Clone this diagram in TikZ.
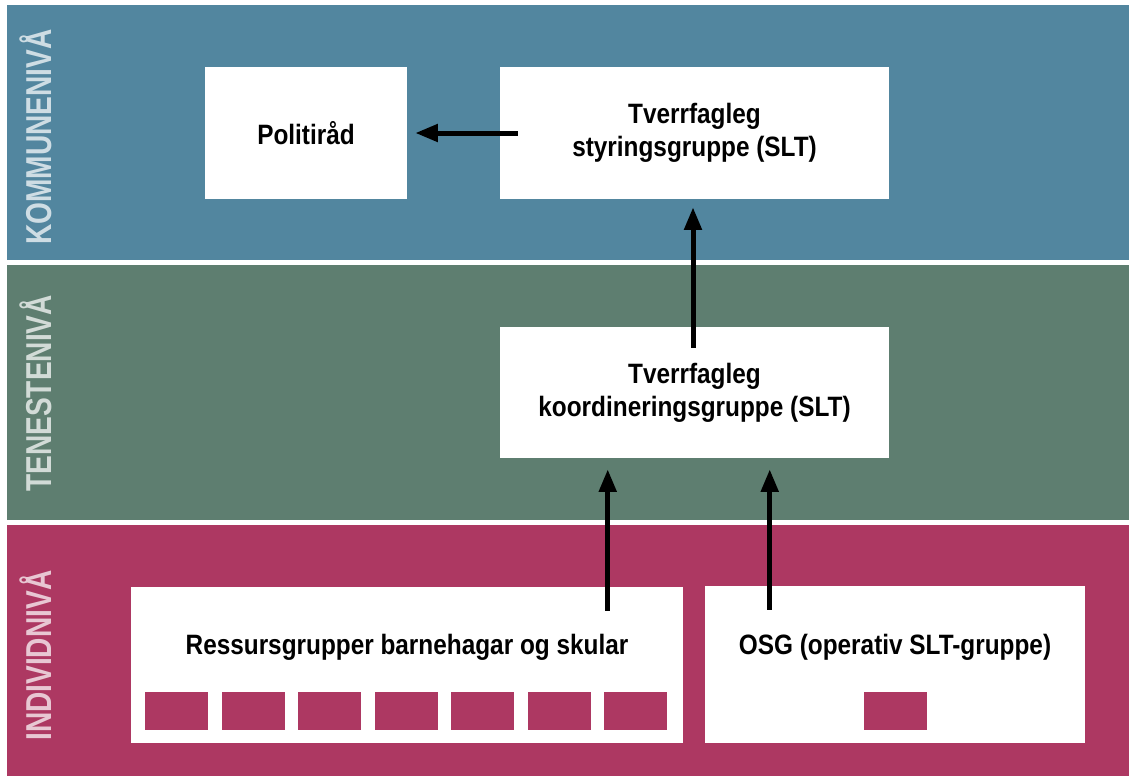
\documentclass[tikz,border=0pt]{standalone}
\usepackage{fontspec}
\setmainfont{Liberation Sans}[FakeStretch=0.87]
\newfontfamily\bandfont{Liberation Sans}[FakeStretch=0.78]
\usetikzlibrary{arrows.meta,calc}
\definecolor{bandblue}{RGB}{82,134,159}
\definecolor{bandgreen}{RGB}{94,126,112}
\definecolor{bandpink}{RGB}{173,56,98}
\tikzset{
  bandlabel/.style={rotate=90, anchor=base west, inner sep=0pt, text=white, text opacity=0.72,
    font=\bandfont\bfseries\fontsize{27pt}{30pt}\selectfont},
  box/.style={fill=white, draw=none, inner sep=0pt, align=center,
    font=\bfseries\fontsize{21pt}{24.75pt}\selectfont},
  boxtext/.style={inner sep=0pt, align=center,
    font=\bfseries\fontsize{21pt}{24.75pt}\selectfont},
  chip/.style={fill=bandpink, draw=none, inner sep=0pt, minimum width=47.25pt, minimum height=28.5pt},
  flow/.style={line width=3.75pt, -{Triangle[length=17pt, width=12.75pt]}}
}
\begin{document}
\begin{tikzpicture}[x=0.75pt, y=-0.75pt]
\useasboundingbox (0,0) rectangle (1129,776);
\fill[white] (0,0) rectangle (1129,776);
% bands
\fill[bandblue] (7,5) rectangle (1129,260);
\fill[bandgreen] (7,265) rectangle (1129,520);
\fill[bandpink] (7,525) rectangle (1129,776);
\node[bandlabel] (lk) at (51,245) {KOMMUNENIVÅ};
\node[bandlabel] (lt) at (51,492) {TENESTENIVÅ};
\node[bandlabel] (li) at (51,741) {INDIVIDNIVÅ};
% boxes
\node[box, minimum width=151.5pt, minimum height=99pt] (pol) at (306,133) {Politiråd};
\node[box, minimum width=291.75pt, minimum height=99pt] (styr) at (694.5,133) {Tverrfagleg\\styringsgruppe (SLT)};
\node[box, minimum width=291.75pt, minimum height=98.25pt] (koord) at (694.5,392.5) {Tverrfagleg\\koordineringsgruppe (SLT)};
\node[box, minimum width=414pt, minimum height=117pt] (res) at (407,665) {};
\node[boxtext] (restxt) at (407,647) {Ressursgrupper barnehagar og skular};
\node[box, minimum width=285pt, minimum height=117.75pt] (osg) at (895,664.5) {};
\node[boxtext] (osgtxt) at (895,647) {OSG (operativ SLT-gruppe)};
% chips
\foreach \i in {0,...,6} {
  \node[chip] (c\i) at ({176.5+76.5*\i},711) {};
}
\node[chip] (oc) at (895,711) {};
% arrows
\draw[flow] ($(styr.west)+(18,0)$) -- ($(pol.east)+(8,0)$);
\draw[flow] ($(koord.north)+(-1.5,21)$) -- ($(styr.south)+(-1.5,8)$);
\draw[flow] ($(res.north west)+(477,24)$) -- ($(koord.south west)+(108,11)$);
\draw[flow] ($(osg.north west)+(65,24)$) -- ($(koord.south west)+(270,11)$);
\end{tikzpicture}
\end{document}
